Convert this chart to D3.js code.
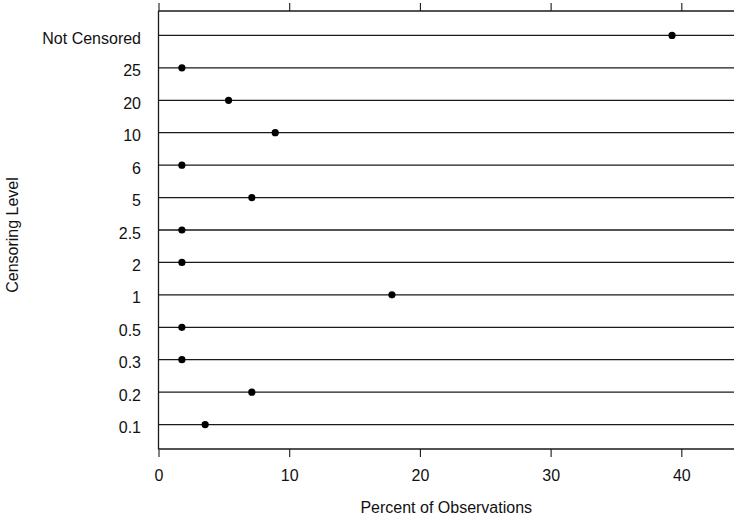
<!DOCTYPE html>
<html>
<head>
<meta charset="utf-8">
<script src="https://cdn.jsdelivr.net/npm/d3@7/dist/d3.min.js"></script>
<style>
  html, body { margin: 0; padding: 0; background: #fff; }
  svg { display: block; font-family: "Liberation Sans", Arial, Helvetica, sans-serif; }
</style>
</head>
<body>
<svg id="chart" width="734" height="517"></svg>
<script>
// Censoring levels, top to bottom
const levels = ["Not Censored", "25", "20", "10", "6", "5", "2.5", "2", "1", "0.5", "0.3", "0.2", "0.1"];
// Percent of observations at each level
const percents = [39.29, 1.79, 5.36, 8.93, 1.79, 7.14, 1.79, 1.79, 17.86, 1.79, 1.79, 7.14, 3.57];
const xTicks = [0, 10, 20, 30, 40];

const width = 734, height = 517;
const margin = { left: 158.5, right: 0, top: 11, bottom: 68 };
const svg = d3.select("#chart");
const fontFamily = "Liberation Sans, Arial, sans-serif";
const fontSize = 16;

const x = d3.scaleLinear().domain([0, 44.03]).range([margin.left, width]);
const y = d3.scalePoint().domain(levels)
  .range([margin.top, height - margin.bottom]).padding(0.753);

const ink = "#1a1a1a";

// frame lines: top, bottom, left
const yTop = margin.top, yBot = height - margin.bottom;
svg.append("line").attr("x1", margin.left).attr("x2", width).attr("y1", yTop).attr("y2", yTop)
  .attr("stroke", ink).attr("stroke-width", 1.3);
svg.append("line").attr("x1", margin.left).attr("x2", width).attr("y1", yBot).attr("y2", yBot)
  .attr("stroke", ink).attr("stroke-width", 1.3);
svg.append("line").attr("x1", margin.left).attr("x2", margin.left).attr("y1", yTop).attr("y2", yBot)
  .attr("stroke", ink).attr("stroke-width", 1.3);

// one horizontal guide per level
svg.append("g").selectAll("line").data(levels).join("line")
  .attr("x1", margin.left).attr("x2", width)
  .attr("y1", d => y(d)).attr("y2", d => y(d))
  .attr("stroke", ink).attr("stroke-width", 1.3);

// bottom axis
const xAxis = svg.append("g").attr("transform", `translate(0,${yBot})`)
  .call(d3.axisBottom(x).tickValues(xTicks).tickSize(8).tickPadding(13));
xAxis.attr("font-size", fontSize).attr("font-family", fontFamily);
xAxis.select(".domain").remove();
xAxis.selectAll(".tick line").attr("stroke", ink).attr("stroke-width", 1.1);
xAxis.selectAll(".tick text").attr("fill", "#111");

// top ticks
const xTop = svg.append("g").attr("transform", `translate(0,${yTop})`)
  .call(d3.axisTop(x).tickValues(xTicks).tickSize(8).tickFormat(""));
xTop.select(".domain").remove();
xTop.selectAll(".tick line").attr("stroke", ink).attr("stroke-width", 1.1);

// level labels, sitting slightly below their guide lines
const yAxis = svg.append("g").attr("transform", `translate(${margin.left},0)`)
  .call(d3.axisLeft(y).tickSize(0).tickPadding(17.5));
yAxis.attr("font-size", fontSize).attr("font-family", fontFamily);
yAxis.select(".domain").remove();
yAxis.selectAll(".tick text").attr("fill", "#111").attr("dy", "0.5em");

// points
svg.append("g").selectAll("circle").data(levels).join("circle")
  .attr("cx", (d, i) => x(percents[i]))
  .attr("cy", d => y(d))
  .attr("r", 3.6)
  .attr("fill", "#000");

// axis titles
svg.append("text")
  .attr("x", (margin.left + width) / 2).attr("y", 513)
  .attr("text-anchor", "middle").attr("font-size", fontSize).attr("fill", "#111")
  .attr("font-family", fontFamily)
  .text("Percent of Observations");
svg.append("text")
  .attr("transform", `translate(17.5,235) rotate(-90)`)
  .attr("text-anchor", "middle").attr("font-size", fontSize).attr("fill", "#111")
  .attr("font-family", fontFamily)
  .text("Censoring Level");
</script>
</body>
</html>
